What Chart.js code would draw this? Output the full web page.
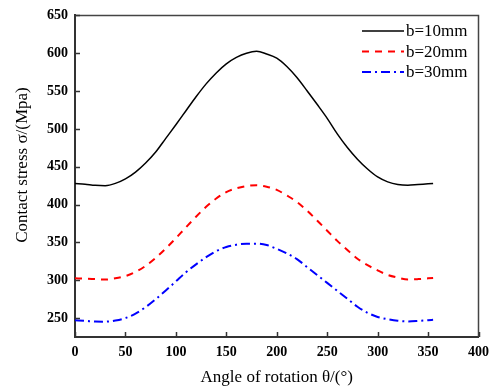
<!DOCTYPE html>
<html>
<head>
<meta charset="utf-8">
<title>Contact stress vs angle of rotation</title>
<script src="https://cdn.jsdelivr.net/npm/chart.js@4.4.1/dist/chart.umd.min.js"></script>
<style>
  body { margin: 0; background: #fff; }
  #wrap { width: 496px; height: 390px; }
</style>
</head>
<body>
<div id="wrap"><canvas id="stressChart" width="496" height="390"></canvas></div>
<script>
// angle of rotation (deg)
const angles = [0, 10, 20, 30, 40, 50, 60, 70, 80, 90, 100, 110, 120, 130, 140, 150, 160, 170,
  180, 190, 200, 210, 220, 230, 240, 250, 260, 270, 280, 290, 300, 310, 320, 330, 340, 350, 355];

// contact stress (MPa)
const stressB10 = [428, 427, 425.5, 425, 428, 434, 443, 455, 469.5, 487.5, 505.5, 524, 542.5, 559.5, 574, 586, 594.5, 600,
  602.5, 599, 593.5, 582.5, 568, 550.5, 532.5, 514, 493.5, 475.5, 460, 447, 436.5, 430, 426.5, 425.5, 426.5, 427.5, 428];
const stressB20 = [302.6, 302, 301.5, 301, 302.5, 305.5, 311, 319, 329.5, 342, 355.5, 370, 384, 397, 408, 416.5, 421.5, 424.5,
  425.5, 423.5, 419.5, 412, 403.5, 392, 379, 365.5, 352, 340, 328.5, 320, 313, 307, 303.5, 301, 301.5, 302.5, 303];
const stressB30 = [247, 246.3, 245.5, 245.3, 246.8, 250, 256, 264.5, 275, 286.5, 298.5, 310.5, 321, 330.5, 338.5, 344, 347, 348.2,
  348.3, 346.5, 341.5, 335.5, 328, 317.5, 307, 296.5, 286, 275.5, 265, 257, 251.5, 248.5, 246.5, 245.6, 246.2, 247.2, 247.8];

const seriesNames = ['b=10mm', 'b=20mm', 'b=30mm'];
const xTicks = [0, 50, 100, 150, 200, 250, 300, 350, 400];
const yTicks = [250, 300, 350, 400, 450, 500, 550, 600, 650];
const yTitle = 'Contact stress σ/(Mpa)';

const serif = '"Liberation Serif", "Times New Roman", serif';

function toPoints(vals) {
  return vals.map((v, i) => ({ x: angles[i], y: v }));
}

// inward ticks, top/right frame, y title and the legend box inside the plot
const framePlugin = {
  id: 'frame',
  afterDraw(chart) {
    const ctx = chart.ctx;
    const a = chart.chartArea;
    const xs = chart.scales.x, ys = chart.scales.y;
    ctx.save();
    ctx.strokeStyle = '#444';
    ctx.lineWidth = 1.5;
    ctx.beginPath();
    ctx.moveTo(a.left, a.top);
    ctx.lineTo(a.right, a.top);
    ctx.lineTo(a.right, a.bottom);
    ctx.stroke();

    ctx.strokeStyle = '#333';
    ctx.lineWidth = 1.5;
    xTicks.forEach(t => {
      const px = Math.round(xs.getPixelForValue(t)) + 0.5;
      ctx.beginPath();
      ctx.moveTo(px, a.bottom);
      ctx.lineTo(px, a.bottom - 5);
      ctx.stroke();
    });
    yTicks.forEach(t => {
      const py = Math.round(ys.getPixelForValue(t)) + 0.5;
      ctx.beginPath();
      ctx.moveTo(a.left, py);
      ctx.lineTo(a.left + 5, py);
      ctx.stroke();
    });

    // y axis title (sits a little above the plot centre in the original)
    ctx.save();
    ctx.translate(23, 165);
    ctx.rotate(-Math.PI / 2);
    ctx.font = '17px ' + serif;
    ctx.fillStyle = '#000';
    ctx.textAlign = 'center';
    ctx.textBaseline = 'middle';
    ctx.fillText(yTitle, 0, 0);
    ctx.restore();

    // legend
    ctx.font = '17px ' + serif;
    ctx.textBaseline = 'middle';
    ctx.textAlign = 'left';
    chart.data.datasets.forEach((ds, i) => {
      const y = 31 + i * 20.5;
      ctx.strokeStyle = ds.borderColor;
      ctx.lineWidth = ds.borderWidth;
      ctx.setLineDash(ds.borderDash || []);
      ctx.beginPath();
      ctx.moveTo(362, y);
      ctx.lineTo(404, y);
      ctx.stroke();
      ctx.setLineDash([]);
      ctx.fillStyle = '#000';
      ctx.fillText(ds.label, 406, y + 1);
    });
    ctx.restore();
  }
};

new Chart(document.getElementById('stressChart'), {
  type: 'line',
  data: {
    datasets: [
      {
        label: seriesNames[0],
        data: toPoints(stressB10),
        borderColor: '#000000',
        borderWidth: 1.5,
        pointRadius: 0,
        cubicInterpolationMode: 'monotone',
        fill: false
      },
      {
        label: seriesNames[1],
        data: toPoints(stressB20),
        borderColor: '#ff0000',
        borderWidth: 2,
        borderDash: [7, 6],
        pointRadius: 0,
        cubicInterpolationMode: 'monotone',
        fill: false
      },
      {
        label: seriesNames[2],
        data: toPoints(stressB30),
        borderColor: '#0000ff',
        borderWidth: 2,
        borderDash: [9, 4, 2, 4],
        pointRadius: 0,
        cubicInterpolationMode: 'monotone',
        fill: false
      }
    ]
  },
  options: {
    responsive: false,
    animation: false,
    events: [],
    layout: { padding: { left: 0, top: 9, right: 14, bottom: 0 } },
    plugins: {
      legend: { display: false },
      tooltip: { enabled: false }
    },
    scales: {
      x: {
        type: 'linear',
        min: 0,
        max: 400,
        afterBuildTicks: s => { s.ticks = xTicks.map(v => ({ value: v })); },
        afterFit: s => { s.height = 53; },
        grid: { display: false, drawTicks: false },
        border: { display: true, color: '#333', width: 2 },
        ticks: {
          padding: 7,
          color: '#000',
          maxRotation: 0,
          font: { family: serif, size: 14, weight: 'bold' }
        },
        title: {
          display: true,
          text: 'Angle of rotation θ/(°)',
          color: '#000',
          padding: { top: 0, bottom: 2 },
          font: { family: serif, size: 17 }
        }
      },
      y: {
        type: 'linear',
        min: 225,
        max: 650,
        afterBuildTicks: s => { s.ticks = yTicks.map(v => ({ value: v })); },
        afterFit: s => { s.width = 75; },
        grid: { display: false, drawTicks: false },
        border: { display: true, color: '#333', width: 2 },
        ticks: {
          padding: 7,
          color: '#000',
          font: { family: serif, size: 14, weight: 'bold' }
        }
      }
    }
  },
  plugins: [framePlugin]
});
</script>
</body>
</html>
